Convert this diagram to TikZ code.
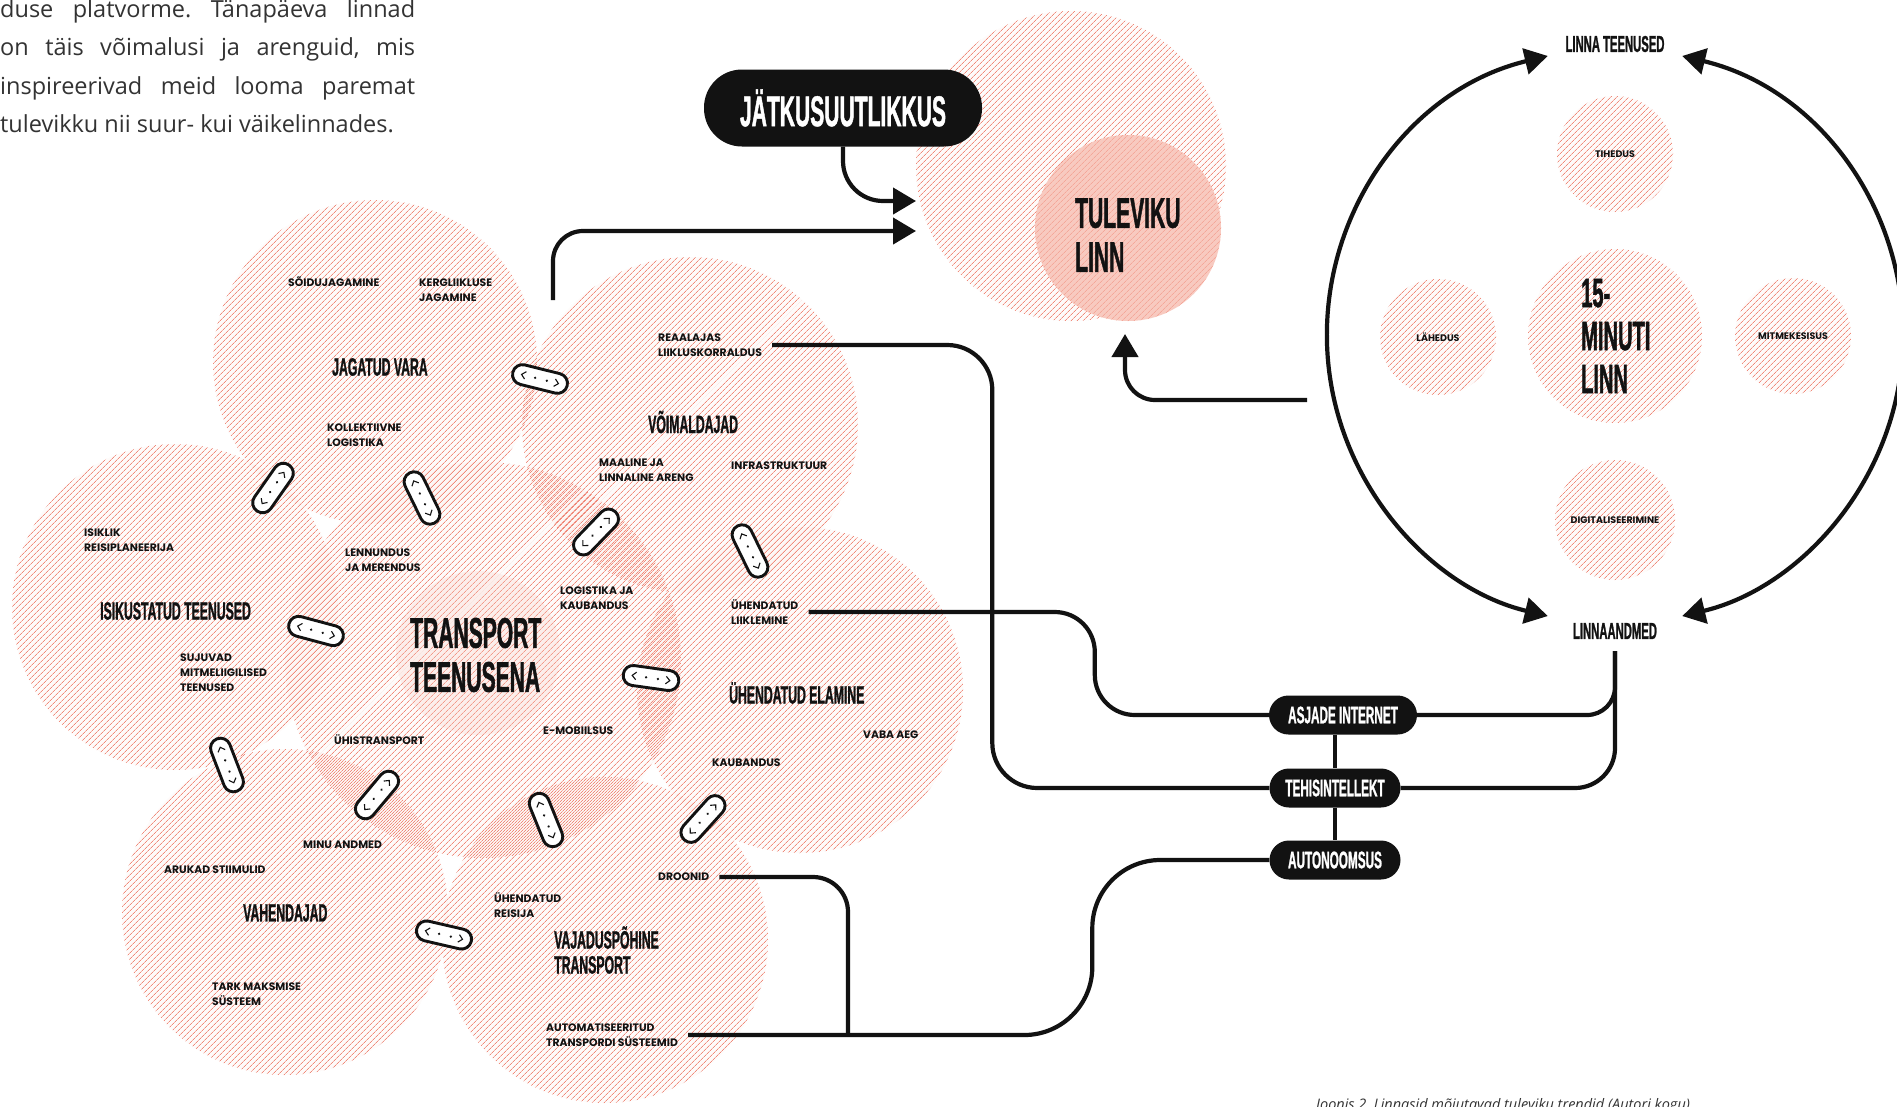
\documentclass[tikz,border=0pt]{standalone}
\usepackage{fontspec}
\setmainfont{Liberation Sans}
\newfontfamily\hd{Liberation Sans}[FakeStretch=0.49,FakeBold=1.0]
\newfontfamily\lb{Poppins}
\newfontfamily\bd{Open Sans}
\usetikzlibrary{patterns.meta,arrows.meta,calc}
\frenchspacing

\definecolor{hatch}{RGB}{240,138,122}
\definecolor{tint}{RGB}{248,202,192}
\definecolor{ink}{RGB}{18,18,18}
\definecolor{bodytext}{RGB}{51,51,51}

\tikzset{
  hz/.style={pattern={Lines[angle=45,distance=4.0pt,line width=0.85pt,xshift=#1]},pattern color=hatch},
  zone/.style={circle,inner sep=0pt,minimum size=#1,preaction={fill=hatch,fill opacity=0.03}},
  conn/.style={line width=4.2pt,draw=ink},
  arr/.style={-{Triangle[length=23pt,width=26pt]}},
  arrs/.style={{Triangle[length=23pt,width=26pt]}-{Triangle[length=23pt,width=26pt]}},
  lbl/.style={font=\lb\bfseries\fontsize{10.8}{15}\selectfont,align=left,anchor=west,inner sep=0pt,text=ink},
  head/.style={font=\hd\bfseries\fontsize{25}{25}\selectfont,align=left,anchor=west,inner sep=0pt,text=ink},
  big/.style={font=\hd\bfseries\fontsize{43}{44}\selectfont,align=left,anchor=west,inner sep=0pt,text=ink},
  pill/.style={fill=ink,text=white,rounded corners=19.5pt,minimum height=39pt,inner sep=0pt,font=\hd\bfseries\fontsize{24}{24}\selectfont},
  tinylbl/.style={font=\lb\bfseries\fontsize{9.5}{10}\selectfont,inner sep=0pt,text=ink},
  cyclbl/.style={font=\hd\bfseries\fontsize{23}{23}\selectfont,inner sep=0pt,text=ink},
  bodyline/.style={anchor=base west,inner sep=0pt,font=\bd\fontsize{23.5}{38}\selectfont,text=bodytext},
  linkpill/.pic={
    \draw[draw=ink,line width=2.9pt,fill=white,rounded corners=9.9pt] (-28,-10) rectangle (28,10);
    \fill[ink] (-5,0) circle[radius=1.3];
    \fill[ink] (7,0) circle[radius=1.3];
    \draw[line width=1.1pt,ink] (-15,-3.8) -- (-19,0) -- (-15,3.8);
    \draw[line width=1.1pt,ink] (15,-3.8) -- (19,0) -- (15,3.8);
  },
}

\begin{document}
\begin{tikzpicture}[x=1pt,y=-1pt]
\useasboundingbox (0,0) rectangle (1897,1106);
\clip (0,0) rectangle (1897,1106);
\fill[white] (0,0) rectangle (1897,1106);

% ---------- introductory paragraph ----------
\node[bodyline] (b1) at (0,17) {\makebox[415pt][s]{duse platvorme. Tänapäeva linnad}};
\node[bodyline] (b2) at (0,55.5) {\makebox[415pt][s]{on täis võimalusi ja arenguid, mis}};
\node[bodyline] (b3) at (0,94) {\makebox[415pt][s]{inspireerivad meid looma paremat}};
\node[bodyline] (b4) at (0,132.5) {tulevikku nii suur- kui väikelinnades.};

% ---------- cluster of overlapping themes ----------
\node[zone=396pt,hz=0pt] (cTra) at (483,660) {};
\node[zone=324pt,hz=1.41pt] (cJag) at (375,362) {};
\node[zone=336pt,hz=4.24pt] (cVoi) at (690,425) {};
\node[zone=326pt,hz=4.24pt] (cIsi) at (175,607) {};
\node[zone=326pt,hz=1.41pt] (cUhe) at (800,690) {};
\node[zone=326pt,hz=1.41pt] (cVah) at (285,912) {};
\node[zone=326pt,hz=4.24pt] (cVaj) at (605,940) {};
\node[circle,inner sep=0pt,minimum size=164pt,fill=tint,fill opacity=0.25] (cTraIn) at (478,653) {};

% ---------- future city ----------
\node[zone=310pt,hz=0pt] (cTul) at (1071,166) {};
\node[circle,inner sep=0pt,minimum size=186pt,preaction={fill=tint},pattern={Lines[angle=45,distance=4.0pt,line width=0.85pt,xshift=2.83pt]},pattern color=hatch!55!tint] (cTulIn) at (1128,228) {};
\node[big] (tul) at (1075,235) {TULEVIKU\\LINN};

\node[pill,minimum width=278pt,minimum height=77pt,rounded corners=38pt,font=\hd\bfseries\fontsize{43}{43}\selectfont] (jat) at (843,108) {JÄTKUSUUTLIKKUS};

% ---------- 15-minute city ----------
\coordinate (cyc) at (1615,336);
\node[zone=174pt,hz=0pt] (cMin) at (1615,336) {};
\node[zone=116pt,hz=0pt] (cTih) at (1615,154) {};
\node[zone=116pt,hz=0pt] (cLah) at (1438,337) {};
\node[zone=116pt,hz=0pt] (cMit) at (1793,336) {};
\node[zone=120pt,hz=0pt] (cDig) at (1615,520) {};
\node[tinylbl] (tih) at (1615,154) {TIHEDUS};
\node[tinylbl] (lah) at (1438,337) {LÄHEDUS};
\node[tinylbl] (mit) at (1793,336) {MITMEKESISUS};
\node[tinylbl] (dig) at (1615,520) {DIGITALISEERIMINE};
\node[big,font=\hd\bfseries\fontsize{41}{43}\selectfont] (min) at (1581,336) {15-\\MINUTI\\LINN};
\node[cyclbl] (lte) at (1615,44) {LINNA TEENUSED};
\node[cyclbl] (lad) at (1615,631) {LINNAANDMED};
\draw[conn,arrs] ($(cyc)+(-103.5:288)$) arc[start angle=-103.5,end angle=-256.5,radius=288];
\draw[conn,arrs] ($(cyc)+(-76.5:288)$) arc[start angle=-76.5,end angle=76.5,radius=288];

% ---------- technology hub ----------
\node[pill,minimum width=148pt] (asj) at (1343,715) {ASJADE INTERNET};
\node[pill,minimum width=131pt] (teh) at (1335,788) {TEHISINTELLEKT};
\node[pill,minimum width=131pt] (auto) at (1335,860) {AUTONOOMSUS};
\draw[conn] (asj.south -| teh.north) -- (teh.north);
\draw[conn] (teh.south) -- (auto.north);

% ---------- cluster labels ----------
\node[lbl] (soi) at (288,282) {SÕIDUJAGAMINE};
\node[lbl] (ker) at (419,290) {KERGLIIKLUSE\\JAGAMINE};
\node[head] (jag) at (332,367) {JAGATUD VARA};
\node[lbl] (kol) at (327,435) {KOLLEKTIIVNE\\LOGISTIKA};

\node[lbl] (rea) at (658,345) {REAALAJAS\\LIIKLUSKORRALDUS};
\node[head] (voi) at (648,422) {VÕIMALDAJAD};
\node[lbl] (maa) at (599,470) {MAALINE JA\\LINNALINE ARENG};
\node[lbl] (inf) at (731,466) {INFRASTRUKTUUR};

\node[lbl] (isk) at (84,540) {ISIKLIK\\REISIPLANEERIJA};
\node[head] (isi) at (100,611) {ISIKUSTATUD TEENUSED};
\node[lbl] (suj) at (180,673) {SUJUVAD\\MITMELIIGILISED\\TEENUSED};

\node[lbl] (len) at (345,560) {LENNUNDUS\\JA MERENDUS};
\node[lbl] (log) at (560,598) {LOGISTIKA JA\\KAUBANDUS};
\node[big] (tra) at (410,655) {TRANSPORT\\TEENUSENA};
\node[lbl] (emo) at (543,731) {E-MOBIILSUS};
\node[lbl] (uhi) at (334,740) {ÜHISTRANSPORT};

\node[lbl] (uhl) at (731,612) {ÜHENDATUD\\LIIKLEMINE};
\node[head] (uhe) at (729,693) {ÜHENDATUD ELAMINE};
\node[lbl] (vab) at (863,735) {VABA AEG};
\node[lbl] (kau) at (712,763) {KAUBANDUS};

\node[lbl] (min2) at (303,845) {MINU ANDMED};
\node[lbl] (aru) at (164,870) {ARUKAD STIIMULID};
\node[head] (vah) at (243,913) {VAHENDAJAD};
\node[lbl] (tar) at (212,994) {TARK MAKSMISE\\SÜSTEEM};

\node[lbl] (dro) at (658,877) {DROONID};
\node[lbl] (rei) at (494,905) {ÜHENDATUD\\REISIJA};
\node[head] (vaj) at (554,950) {VAJADUSPÕHINE\\TRANSPORT};
\node[lbl] (aut) at (546,1035) {AUTOMATISEERITUD\\TRANSPORDI SÜSTEEMID};

% ---------- links between neighbouring themes ----------
\pic[rotate=-14] at (540,379) {linkpill};
\pic[rotate=55] at (273,488) {linkpill};
\pic[rotate=-64] at (422,498) {linkpill};
\pic[rotate=46] at (596,532) {linkpill};
\pic[rotate=-64] at (750,551) {linkpill};
\pic[rotate=-15] at (316,631) {linkpill};
\pic[rotate=-8] at (651,678) {linkpill};
\pic[rotate=-69] at (227,765) {linkpill};
\pic[rotate=50] at (377,795) {linkpill};
\pic[rotate=-68] at (546,820) {linkpill};
\pic[rotate=48] at (703,819) {linkpill};
\pic[rotate=-13] at (444,935) {linkpill};

% ---------- connectors ----------
\coordinate (t1) at (916,201);
\coordinate (t2) at (916,231);
\coordinate (s2) at (553,300);
\coordinate (s3) at (1307,400);
\coordinate (t3) at (1125,334);
\coordinate (jx) at (848,0);
\draw[conn,arr,rounded corners=40pt] (jat.south) |- (t1);
\draw[conn,arr,rounded corners=30pt] (s2) |- (t2);
\draw[conn,arr,rounded corners=30pt] (s3) -| (t3);

\draw[conn,rounded corners=45pt] ([xshift=10pt]rea.east) -| ([xshift=-277pt]teh.west) -- (teh.west);
\draw[conn,rounded corners=40pt] ([xshift=10pt]uhl.east) -| ([xshift=-174pt]asj.west) -- (asj.west);
\draw[conn,rounded corners=35pt] ([xshift=10pt]dro.east) -| (aut.east -| jx);
\draw[conn,rounded corners=68pt] ([xshift=10pt]aut.east) -| ([xshift=-177pt]auto.west) -- (auto.west);
\draw[conn,rounded corners=28pt] ([yshift=-12pt]lad.south) |- (asj.east);
\draw[conn,rounded corners=40pt] ([yshift=-12pt]lad.south) |- (teh.east);

% ---------- caption ----------
\node[anchor=north west,inner sep=0pt,font=\bd\itshape\fontsize{14.5}{15}\selectfont,text=bodytext] (cap) at (1316,1098) {Joonis 2. Linnasid mõjutavad tuleviku trendid (Autori kogu)};
\end{tikzpicture}
\end{document}
